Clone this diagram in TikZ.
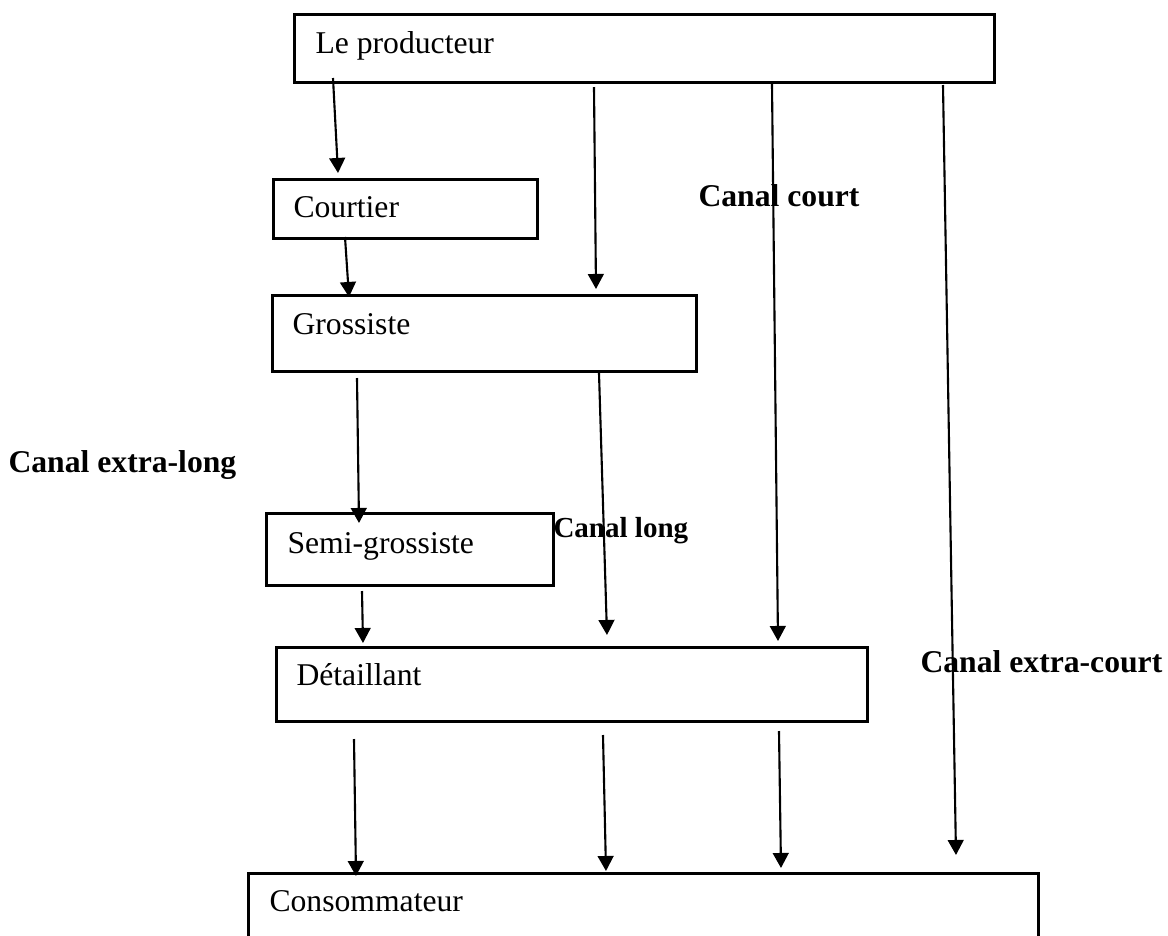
\documentclass[tikz,border=0pt]{standalone}
\usepackage{fontspec}
\setmainfont{Liberation Serif}
\usetikzlibrary{arrows.meta}

\newcommand\pxu{0.379pt}

\begin{document}
\begin{tikzpicture}[x=0.379pt,y=-0.379pt,>={Triangle[length=5.7pt,width=6pt]},
  box/.style={draw,line width=1.1pt,anchor=north west,inner sep=0pt},
  lbl/.style={anchor=base west,inner sep=0pt,font=\fontsize{12}{14}\selectfont},
  canal/.style={anchor=base west,inner sep=0pt,font=\fontsize{12}{14}\selectfont\bfseries},
  fl/.style={->,line width=0.8pt}]
  \useasboundingbox (0,0) rectangle (1168,936);
  % boxes
  \node[box,minimum width=700*\pxu,minimum height=68*\pxu] (prod) at (293,13) {};
  \node[box,minimum width=264*\pxu,minimum height=59*\pxu] (court) at (272,178) {};
  \node[box,minimum width=424*\pxu,minimum height=76*\pxu] (gros) at (271,294) {};
  \node[box,minimum width=287*\pxu,minimum height=72*\pxu] (semi) at (265,512) {};
  \node[box,minimum width=591*\pxu,minimum height=74*\pxu] (det) at (275,646) {};
  \node[box,minimum width=790*\pxu,minimum height=90*\pxu] (cons) at (247,872) {};
  \node[lbl] (tprod) at (315,53) {Le producteur};
  \node[lbl] (tcourt) at (293,217) {Courtier};
  \node[lbl] (tgros) at (292,334) {Grossiste};
  \node[lbl] (tsemi) at (287,553) {Semi-grossiste};
  \node[lbl] (tdet) at (296,685) {Détaillant};
  \node[lbl] (tcons) at (269,911) {Consommateur};
  % canaux
  \node[canal] (ccourt) at (698,206) {Canal court};
  \node[canal] (cxlong) at (8,472) {Canal extra-long};
  \node[canal,font=\fontsize{11}{13}\selectfont\bfseries] (clong) at (553,537) {Canal long};
  \node[canal] (cxcourt) at (920,672) {Canal extra-court};
  % arrows
  \coordinate (P1) at (333,78);  \coordinate (Q1) at (338,173);
  \coordinate (P2) at (594,87);  \coordinate (Q2) at (596,289);
  \coordinate (P3) at (772,84);  \coordinate (Q3) at (778,641);
  \coordinate (P4) at (943,85);  \coordinate (Q4) at (956,855);
  \coordinate (P5) at (345,237); \coordinate (Q5) at (349,297);
  \coordinate (P6) at (357,378); \coordinate (Q6) at (359,523);
  \coordinate (P7) at (599,373); \coordinate (Q7) at (607,635);
  \coordinate (P8) at (362,591); \coordinate (Q8) at (363,643);
  \coordinate (P9) at (354,739); \coordinate (Q9) at (356,876);
  \coordinate (P10) at (603,735); \coordinate (Q10) at (606,871);
  \coordinate (P11) at (779,731); \coordinate (Q11) at (781,868);
  \foreach \i in {1,...,11}
    \draw[fl] (P\i)--(Q\i);
\end{tikzpicture}
\end{document}
